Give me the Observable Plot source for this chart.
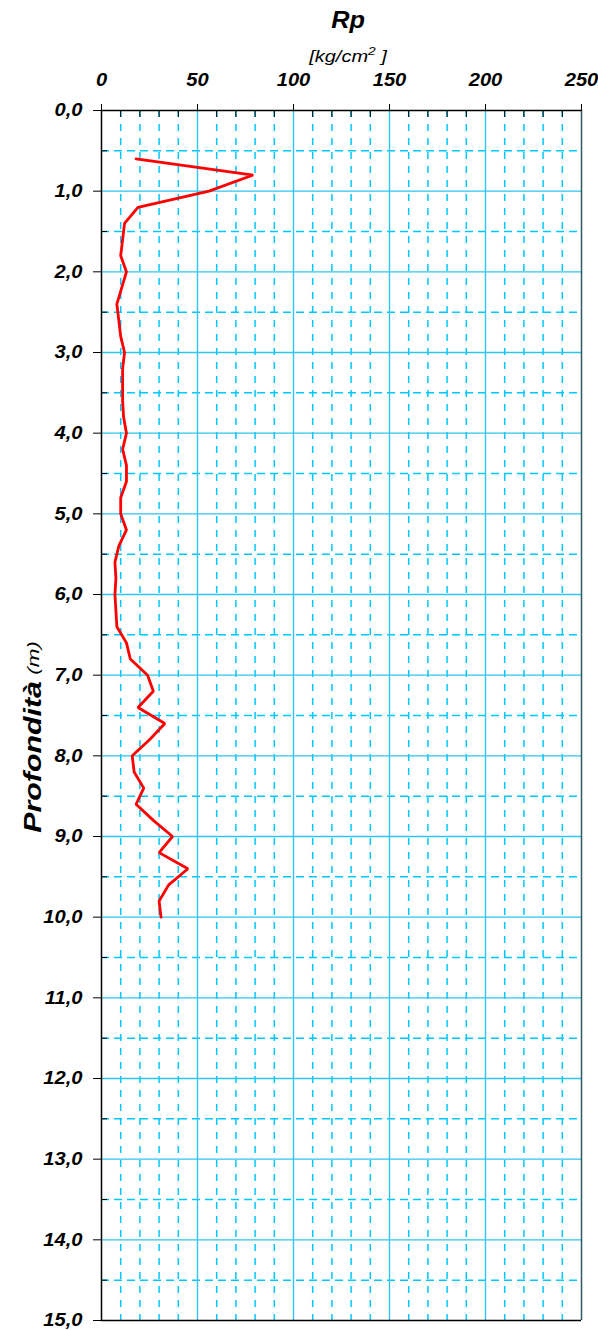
<!DOCTYPE html>
<html>
<head>
<meta charset="utf-8">
<script src="https://cdn.jsdelivr.net/npm/d3@7"></script>
<script src="https://cdn.jsdelivr.net/npm/@observablehq/plot@0.6"></script>
<style>
  body { margin: 0; background: #fff; }
  svg { display: block; }
</style>
</head>
<body>
<div id="chart"></div>
<script>
// Penetrometer log: point resistance Rp (kg/cm²) against depth (m)
const depth = [0.6, 0.8, 1.0, 1.2, 1.4, 1.6, 1.8, 2.0, 2.2, 2.4, 2.6, 2.8, 3.0, 3.2, 3.4, 3.6, 3.8, 4.0,
               4.2, 4.4, 4.6, 4.8, 5.0, 5.2, 5.4, 5.6, 5.8, 6.0, 6.2, 6.4, 6.6, 6.8, 7.0, 7.2, 7.4, 7.6,
               7.8, 8.0, 8.2, 8.4, 8.6, 8.8, 9.0, 9.2, 9.4, 9.6, 9.8, 10.0];
const rp = [18, 79, 56, 19, 12, 11, 10, 13, 10.5, 8, 9, 10, 12, 11, 11, 11, 11.5, 13,
            11, 13, 13, 10, 10, 13, 9, 7, 7.5, 7, 7.5, 8, 13, 15, 24, 27, 19, 33,
            25, 16, 17, 22, 18, 27, 37, 30, 45, 35, 30, 31];

// Axis ticks and grid positions
const xTickValues = [0, 50, 100, 150, 200, 250];
const xMinorTicks = [10, 20, 30, 40, 60, 70, 80, 90, 110, 120, 130, 140, 160, 170, 180, 190, 210, 220, 230, 240];
const xMajorGrid = [50, 100, 150, 200];
const yTickValues = [0, 1, 2, 3, 4, 5, 6, 7, 8, 9, 10, 11, 12, 13, 14, 15];
const yMajorGrid = [1, 2, 3, 4, 5, 6, 7, 8, 9, 10, 11, 12, 13, 14];
const yMinorTicks = [0.5, 1.5, 2.5, 3.5, 4.5, 5.5, 6.5, 7.5, 8.5, 9.5, 10.5, 11.5, 12.5, 13.5, 14.5];

const data = depth.map((d, i) => ({depth: d, rp: rp[i]}));

const font = "'Liberation Sans', Arial, sans-serif";
const gridMinor = "#00c8ff";
const gridMajor = "#2cc6f2";
const fmt = d => d.toFixed(1).replace(".", ",");

const chart = Plot.plot({
  width: 598,
  height: 1330,
  marginLeft: 101,
  marginRight: 17,
  marginTop: 110,
  marginBottom: 10,
  style: {
    fontFamily: font,
    fontSize: "18px",
    fontWeight: "bold",
    fontStyle: "italic",
    background: "#fff",
    color: "#000",
    overflow: "visible"
  },
  x: {domain: [0, 250], axis: null},
  y: {domain: [0, 15], reverse: true, axis: null},
  marks: [
    Plot.ruleX(xMinorTicks, {stroke: gridMinor, strokeWidth: 1.5, strokeDasharray: "7,7"}),
    Plot.ruleY(yMinorTicks, {stroke: gridMinor, strokeWidth: 1.5, strokeDasharray: "8,5"}),
    Plot.ruleX(xMajorGrid, {stroke: gridMajor, strokeWidth: 1.4}),
    Plot.ruleY(yMajorGrid, {stroke: gridMajor, strokeWidth: 1.4}),
    // frame
    Plot.ruleX([250], {stroke: "#2e5a66", strokeWidth: 1.5}),
    Plot.ruleY([0, 15], {stroke: "#000", strokeWidth: 1.5}),
    Plot.ruleX([0], {stroke: "#000", strokeWidth: 1.5}),
    // top axis
    Plot.axisX({anchor: "top", ticks: xTickValues, tickSize: 7, tickPadding: 18,
                tickFormat: d => String(d), label: null}),
    Plot.axisX({anchor: "top", ticks: xMinorTicks, tickSize: -6,
                tickFormat: () => "", label: null}),
    // left axis
    Plot.axisY({anchor: "left", ticks: yTickValues, tickSize: 8, tickPadding: 11,
                tickFormat: fmt, label: null}),
    Plot.axisY({anchor: "left", ticks: yMinorTicks, tickSize: -6,
                tickFormat: () => "", label: null}),
    // Rp profile
    Plot.line(data, {x: "rp", y: "depth", stroke: "#ff0000", strokeWidth: 2.8,
                     strokeLinejoin: "miter"})
  ]
});

document.getElementById("chart").append(chart);

const svg = d3.select(chart);

// Slightly wider tick labels (stretched glyphs, anchor kept)
svg.selectAll('g[aria-label="x-axis tick label"] text, g[aria-label="y-axis tick label"] text')
  .each(function() {
    const w = this.getComputedTextLength();
    if (w > 0) {
      this.setAttribute("textLength", (w * 1.12).toFixed(2));
      this.setAttribute("lengthAdjust", "spacingAndGlyphs");
    }
  });

// Title and unit
svg.append("text")
  .attr("transform", "translate(348,28) scale(1.1,1)")
  .attr("text-anchor", "middle")
  .attr("font-family", font).attr("font-size", 23)
  .attr("font-weight", "bold").attr("font-style", "italic")
  .attr("fill", "#000")
  .text("Rp");

const unit = svg.append("text")
  .attr("transform", "translate(348,62) scale(1.25,1)")
  .attr("text-anchor", "middle")
  .attr("font-family", font).attr("font-size", 16)
  .attr("font-weight", "normal").attr("font-style", "italic")
  .attr("fill", "#000");
unit.append("tspan").text("[kg/cm");
unit.append("tspan").attr("font-size", 11).attr("dy", -7).text("2");
unit.append("tspan").attr("dy", 7).text(" ]");

// Depth axis title
const ylab = svg.append("text")
  .attr("transform", "translate(33,737) rotate(-90) scale(1.32,1)")
  .attr("text-anchor", "middle")
  .attr("dominant-baseline", "central")
  .attr("font-family", font)
  .attr("font-size", 23)
  .attr("font-style", "italic")
  .attr("fill", "#000");
ylab.append("tspan").attr("font-weight", "bold").text("Profondità");
ylab.append("tspan").attr("font-size", 17).attr("font-weight", "normal").text(" (m)");
</script>
</body>
</html>
